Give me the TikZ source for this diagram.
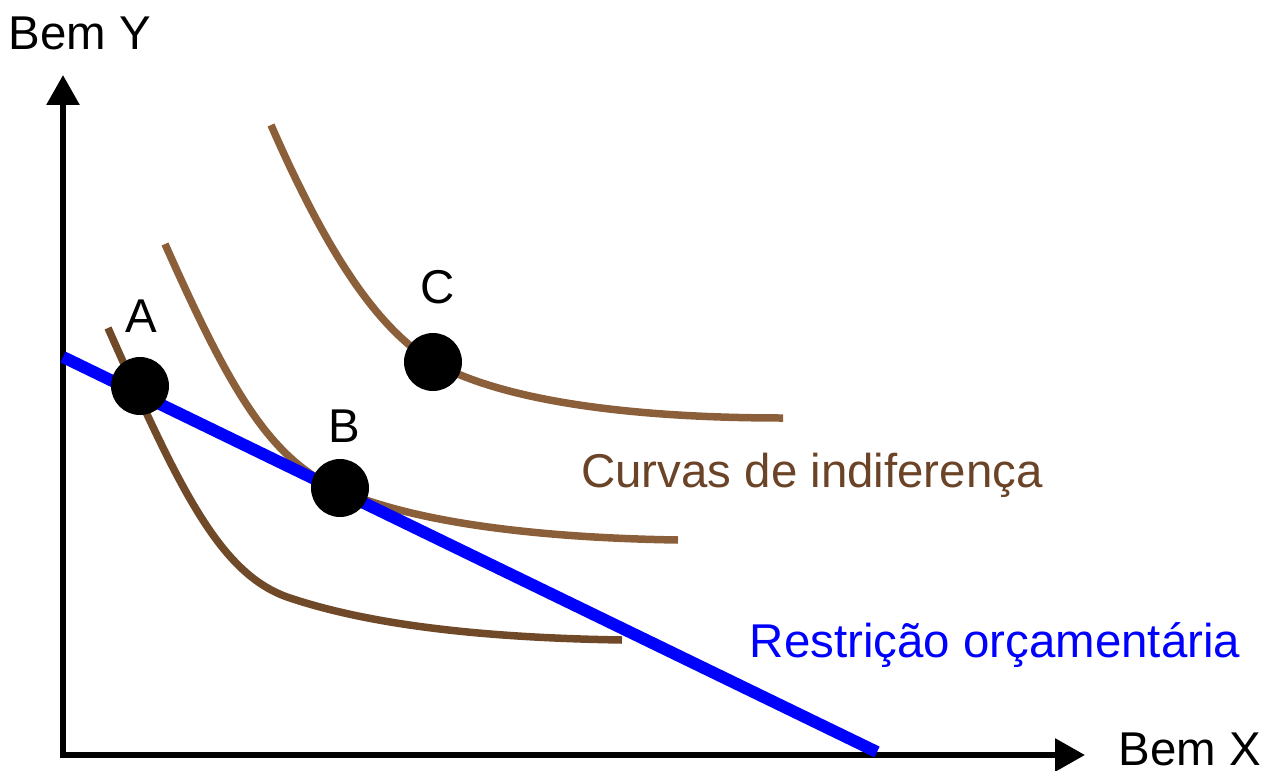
\documentclass[tikz,border=0pt]{standalone}
\usepackage{fontspec}
\setmainfont{Liberation Sans}
\usetikzlibrary{arrows.meta,positioning}

\definecolor{curvebrown}{RGB}{139,95,58}
\definecolor{darkbrown}{RGB}{112,74,40}
\definecolor{textbrown}{RGB}{107,68,40}

\begin{document}
\begin{tikzpicture}[x = 0.02cm, y = -0.02cm,
	> = {Triangle[length = 0.6cm, width = 0.64cm]},
	axis/.style = {line width = 0.12cm, ->},
	indiff/.style = {line width = 0.15cm, curvebrown},
	budget/.style = {line width = 0.24cm, blue},
	dot/.style = {circle, fill = black, inner sep = 0pt, minimum size = 1.16cm},
	big/.style = {font = \fontsize{27}{32}\selectfont, inner sep = 0pt}]
	
	\useasboundingbox (0, 0) rectangle (1279, 771);
	
	\coordinate (O) at (63, 755);
	\coordinate (Ytop) at (63, 75);
	\coordinate (Xend) at (1085, 755);
	\coordinate (Bstart) at (63, 357);
	\coordinate (Bend) at (877, 752);
	
	\draw [axis] (O) -- (Ytop);
	\draw [axis] ([xshift = -0.06cm] O) -- (Xend);
	
	\node [big] (labY) at (80, 33) {Bem Y};
	\node [big] (labX) at (1190, 749) {Bem X};
	
	% indifference curves
	\draw [indiff, darkbrown] (108, 328) .. controls (180, 490) and (220, 575) .. (290, 598) .. controls (380, 628) and (500, 638) .. (622, 640);
	\draw [indiff] (165, 244) .. controls (230, 390) and (270, 460) .. (340, 490) .. controls (420, 525) and (550, 538) .. (678, 540);
	\draw [indiff] (271, 125) .. controls (330, 260) and (380, 330) .. (433, 362) .. controls (510, 405) and (650, 418) .. (783, 418);
	
	\draw [budget] (Bstart) -- (Bend);
	
	\node [dot] (A) at (140, 386) {};
	\node [dot] (B) at (340, 488) {};
	\node [dot] (C) at (433, 362) {};
	
	\node [big] (labA) at (141, 316) {A};
	\node [big] (labB) at (344, 426) {B};
	\node [big] (labC) at (438, 287) {C};
	
	\node [big, textbrown] (curvas) at (812, 475) {Curvas de indiferença};
	\node [big, blue] (restr) at (995, 645) {Restrição orçamentária};
	
\end{tikzpicture}
\end{document}
